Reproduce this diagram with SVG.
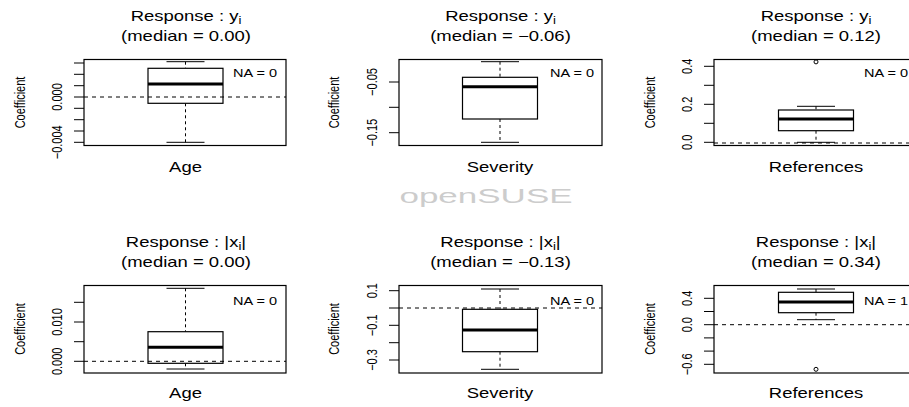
<svg xmlns="http://www.w3.org/2000/svg" width="909" height="407" viewBox="0 0 909 407">
<style>
text{font-family:"Liberation Sans",Arial,sans-serif;fill:#000}
.ti{font-size:14px;text-anchor:middle}
.xl{font-size:14px;text-anchor:middle}
.ax{font-size:11px;text-anchor:middle}
.yl{font-size:11px;text-anchor:middle}
.na{font-size:11px;text-anchor:end}
.sub{font-size:10px}
.frame{fill:none;stroke:#000;stroke-width:1.2}
.tick{stroke:#000;stroke-width:1}
.bx{fill:#fff;stroke:#000;stroke-width:1.2}
.med{stroke:#000;stroke-width:3}
.wh{stroke:#000;stroke-width:1;stroke-dasharray:3 3}
.cap{stroke:#000;stroke-width:1}
.zero{stroke:#000;stroke-width:1;stroke-dasharray:4 4}
.out{fill:none;stroke:#000;stroke-width:1}
.wm{font-size:20px;fill:#cccccc;text-anchor:middle}
</style>
<rect width="909" height="407" fill="#fff"/>

<g id="p1">
<text class="ti" transform="translate(186,20.5) scale(1.32,1)">Response : y<tspan class="sub" dy="3">i</tspan></text>
<text class="ti" transform="translate(186,40.5) scale(1.32,1)">(median = 0.00)</text>
<rect class="frame" x="84" y="59.5" width="202" height="86"/>
<g class="tick"><line x1="74" y1="63" x2="84" y2="63"/><line x1="74" y1="74.3" x2="84" y2="74.3"/><line x1="74" y1="85.7" x2="84" y2="85.7"/><line x1="74" y1="97" x2="84" y2="97"/><line x1="74" y1="108.3" x2="84" y2="108.3"/><line x1="74" y1="119.7" x2="84" y2="119.7"/><line x1="74" y1="131" x2="84" y2="131"/><line x1="74" y1="142.3" x2="84" y2="142.3"/></g>
<text class="ax" transform="translate(62,97) scale(1.32,1) rotate(-90)">0.000</text>
<text class="ax" transform="translate(62,142.3) scale(1.32,1) rotate(-90)">−0.004</text>
<text class="yl" transform="translate(25,102.5) scale(1.32,1) rotate(-90)">Coefficient</text>
<line class="wh" x1="185.5" y1="61.7" x2="185.5" y2="68.3"/>
<line class="wh" x1="185.5" y1="103.3" x2="185.5" y2="142.3"/>
<line class="cap" x1="166.5" y1="61.7" x2="204.5" y2="61.7"/>
<line class="cap" x1="166.5" y1="142.3" x2="204.5" y2="142.3"/>
<rect class="bx" x="148" y="68.3" width="75" height="35"/>
<line class="med" x1="148" y1="84" x2="223" y2="84"/>
<line class="zero" x1="84" y1="97" x2="286" y2="97"/>
<text class="na" transform="translate(277,77) scale(1.32,1)">NA = 0</text>
<text class="xl" transform="translate(185.5,172) scale(1.32,1)">Age</text>
</g>

<g id="p2">
<text class="ti" transform="translate(500.5,20.5) scale(1.32,1)">Response : y<tspan class="sub" dy="3">i</tspan></text>
<text class="ti" transform="translate(500.5,40.5) scale(1.32,1)">(median = −0.06)</text>
<rect class="frame" x="399" y="59.5" width="203" height="86"/>
<g class="tick"><line x1="389" y1="82" x2="399" y2="82"/><line x1="389" y1="107.3" x2="399" y2="107.3"/><line x1="389" y1="132.7" x2="399" y2="132.7"/></g>
<text class="ax" transform="translate(377,82) scale(1.32,1) rotate(-90)">−0.05</text>
<text class="ax" transform="translate(377,132.7) scale(1.32,1) rotate(-90)">−0.15</text>
<text class="yl" transform="translate(339,102.5) scale(1.32,1) rotate(-90)">Coefficient</text>
<line class="wh" x1="500" y1="61.7" x2="500" y2="77.3"/>
<line class="wh" x1="500" y1="119" x2="500" y2="142.3"/>
<line class="cap" x1="481" y1="61.7" x2="519" y2="61.7"/>
<line class="cap" x1="481" y1="142.3" x2="519" y2="142.3"/>
<rect class="bx" x="462.5" y="77.3" width="75" height="41.7"/>
<line class="med" x1="462.5" y1="86.7" x2="537.5" y2="86.7"/>
<text class="na" transform="translate(594,77) scale(1.32,1)">NA = 0</text>
<text class="xl" transform="translate(500,172) scale(1.32,1)">Severity</text>
</g>

<g id="p3">
<text class="ti" transform="translate(816,20.5) scale(1.32,1)">Response : y<tspan class="sub" dy="3">i</tspan></text>
<text class="ti" transform="translate(816,40.5) scale(1.32,1)">(median = 0.12)</text>
<rect class="frame" x="714" y="59.5" width="203" height="86"/>
<g class="tick"><line x1="704" y1="66.3" x2="714" y2="66.3"/><line x1="704" y1="85.3" x2="714" y2="85.3"/><line x1="704" y1="104.3" x2="714" y2="104.3"/><line x1="704" y1="123.3" x2="714" y2="123.3"/><line x1="704" y1="142.3" x2="714" y2="142.3"/></g>
<text class="ax" transform="translate(692,142.3) scale(1.32,1) rotate(-90)">0.0</text>
<text class="ax" transform="translate(692,104.3) scale(1.32,1) rotate(-90)">0.2</text>
<text class="ax" transform="translate(692,66.3) scale(1.32,1) rotate(-90)">0.4</text>
<text class="yl" transform="translate(655,102.5) scale(1.32,1) rotate(-90)">Coefficient</text>
<line class="wh" x1="816" y1="106.3" x2="816" y2="110"/>
<line class="wh" x1="816" y1="130.7" x2="816" y2="142.3"/>
<line class="cap" x1="797" y1="106.3" x2="835" y2="106.3"/>
<line class="cap" x1="797" y1="142.3" x2="835" y2="142.3"/>
<rect class="bx" x="778.5" y="110" width="75" height="20.7"/>
<line class="med" x1="778.5" y1="119" x2="853.5" y2="119"/>
<circle class="out" cx="816" cy="61.9" r="2"/>
<line class="zero" x1="714" y1="143" x2="917" y2="143"/>
<text class="na" transform="translate(908,77) scale(1.32,1)">NA = 0</text>
<text class="xl" transform="translate(816,172) scale(1.32,1)">References</text>
</g>

<g id="p4">
<text class="ti" transform="translate(186,246.5) scale(1.32,1)">Response : |x<tspan class="sub" dy="3">i</tspan><tspan dy="-3">|</tspan></text>
<text class="ti" transform="translate(186,266.5) scale(1.32,1)">(median = 0.00)</text>
<rect class="frame" x="84" y="285.5" width="202" height="87.5"/>
<g class="tick"><line x1="74" y1="302.3" x2="84" y2="302.3"/><line x1="74" y1="322" x2="84" y2="322"/><line x1="74" y1="341.7" x2="84" y2="341.7"/><line x1="74" y1="361.3" x2="84" y2="361.3"/></g>
<text class="ax" transform="translate(62,361.3) scale(1.32,1) rotate(-90)">0.000</text>
<text class="ax" transform="translate(62,322) scale(1.32,1) rotate(-90)">0.010</text>
<text class="yl" transform="translate(25,329) scale(1.32,1) rotate(-90)">Coefficient</text>
<line class="wh" x1="185.5" y1="288.3" x2="185.5" y2="331.7"/>
<line class="wh" x1="185.5" y1="363.3" x2="185.5" y2="369"/>
<line class="cap" x1="166.5" y1="288.3" x2="204.5" y2="288.3"/>
<line class="cap" x1="166.5" y1="369" x2="204.5" y2="369"/>
<rect class="bx" x="148" y="331.7" width="75" height="31.6"/>
<line class="med" x1="148" y1="347.3" x2="223" y2="347.3"/>
<line class="zero" x1="84" y1="361.3" x2="286" y2="361.3"/>
<text class="na" transform="translate(277,304.5) scale(1.32,1)">NA = 0</text>
<text class="xl" transform="translate(185.5,398) scale(1.32,1)">Age</text>
</g>

<g id="p5">
<text class="ti" transform="translate(500.5,246.5) scale(1.32,1)">Response : |x<tspan class="sub" dy="3">i</tspan><tspan dy="-3">|</tspan></text>
<text class="ti" transform="translate(500.5,266.5) scale(1.32,1)">(median = −0.13)</text>
<rect class="frame" x="399" y="285.5" width="203" height="87.5"/>
<g class="tick"><line x1="389" y1="290.7" x2="399" y2="290.7"/><line x1="389" y1="308" x2="399" y2="308"/><line x1="389" y1="325.3" x2="399" y2="325.3"/><line x1="389" y1="342.7" x2="399" y2="342.7"/><line x1="389" y1="360" x2="399" y2="360"/></g>
<text class="ax" transform="translate(377,290.7) scale(1.32,1) rotate(-90)">0.1</text>
<text class="ax" transform="translate(377,325.3) scale(1.32,1) rotate(-90)">−0.1</text>
<text class="ax" transform="translate(377,360) scale(1.32,1) rotate(-90)">−0.3</text>
<text class="yl" transform="translate(339,329) scale(1.32,1) rotate(-90)">Coefficient</text>
<line class="wh" x1="500" y1="289" x2="500" y2="309.3"/>
<line class="wh" x1="500" y1="351.7" x2="500" y2="369.3"/>
<line class="cap" x1="481" y1="289" x2="519" y2="289"/>
<line class="cap" x1="481" y1="369.3" x2="519" y2="369.3"/>
<rect class="bx" x="462.5" y="309.3" width="75" height="42.4"/>
<line class="med" x1="462.5" y1="330" x2="537.5" y2="330"/>
<line class="zero" x1="399" y1="308" x2="602" y2="308"/>
<text class="na" transform="translate(594,304.5) scale(1.32,1)">NA = 0</text>
<text class="xl" transform="translate(500,398) scale(1.32,1)">Severity</text>
</g>

<g id="p6">
<text class="ti" transform="translate(816,246.5) scale(1.32,1)">Response : |x<tspan class="sub" dy="3">i</tspan><tspan dy="-3">|</tspan></text>
<text class="ti" transform="translate(816,266.5) scale(1.32,1)">(median = 0.34)</text>
<rect class="frame" x="714" y="285.5" width="203" height="87.5"/>
<g class="tick"><line x1="704" y1="298.3" x2="714" y2="298.3"/><line x1="704" y1="311.5" x2="714" y2="311.5"/><line x1="704" y1="324.7" x2="714" y2="324.7"/><line x1="704" y1="337.9" x2="714" y2="337.9"/><line x1="704" y1="351.1" x2="714" y2="351.1"/><line x1="704" y1="364.3" x2="714" y2="364.3"/></g>
<text class="ax" transform="translate(692,298.3) scale(1.32,1) rotate(-90)">0.4</text>
<text class="ax" transform="translate(692,324.7) scale(1.32,1) rotate(-90)">0.0</text>
<text class="ax" transform="translate(692,364.3) scale(1.32,1) rotate(-90)">−0.6</text>
<text class="yl" transform="translate(655,329) scale(1.32,1) rotate(-90)">Coefficient</text>
<line class="wh" x1="816" y1="289" x2="816" y2="292.3"/>
<line class="wh" x1="816" y1="312.7" x2="816" y2="319.7"/>
<line class="cap" x1="797" y1="289" x2="835" y2="289"/>
<line class="cap" x1="797" y1="319.7" x2="835" y2="319.7"/>
<rect class="bx" x="778.5" y="292.3" width="75" height="20.4"/>
<line class="med" x1="778.5" y1="302" x2="853.5" y2="302"/>
<circle class="out" cx="816" cy="369.3" r="2"/>
<line class="zero" x1="714" y1="324.7" x2="917" y2="324.7"/>
<text class="na" transform="translate(908,304.5) scale(1.32,1)">NA = 1</text>
<text class="xl" transform="translate(816,398) scale(1.32,1)">References</text>
</g>

<text class="wm" transform="translate(486,203) scale(1.75,1)">openSUSE</text>
</svg>
